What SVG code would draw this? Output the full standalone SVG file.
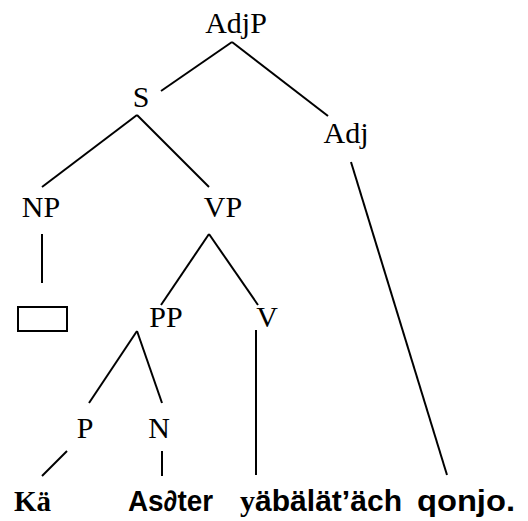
<svg xmlns="http://www.w3.org/2000/svg" width="528" height="521" viewBox="0 0 528 521">
<style>
.lbl{font-family:"Liberation Serif","Times New Roman",serif;font-size:30px;fill:#000;text-anchor:middle}
.word{font-family:"Liberation Sans",Arial,sans-serif;font-size:29px;font-weight:bold;fill:#000}
.serifb{font-family:"Liberation Serif","Times New Roman",serif;font-weight:bold}
.edge{stroke:#000;stroke-width:2;fill:none}
</style>
<rect width="528" height="521" fill="#fff"/>
<g id="connectors">
<line class="edge" x1="232" y1="42" x2="161" y2="91"/>
<line class="edge" x1="232" y1="42" x2="328" y2="116"/>
<line class="edge" x1="137" y1="115" x2="42" y2="187"/>
<line class="edge" x1="137" y1="115" x2="209" y2="187"/>
<line class="edge" x1="351" y1="162" x2="447" y2="475"/>
<line class="edge" x1="42" y1="234" x2="42" y2="283"/>
<line class="edge" x1="209" y1="234" x2="161" y2="305"/>
<line class="edge" x1="209" y1="234" x2="258" y2="305"/>
<line class="edge" x1="137" y1="331" x2="89" y2="403"/>
<line class="edge" x1="137" y1="331" x2="162" y2="403"/>
<line class="edge" x1="256" y1="330" x2="256" y2="475"/>
<line class="edge" x1="67" y1="451" x2="42" y2="476"/>
<line class="edge" x1="162" y1="451" x2="162" y2="476"/>
</g>
<g id="AdjP"><text class="lbl" x="236" y="33">AdjP</text></g>
<g id="S"><text class="lbl" x="141" y="107">S</text></g>
<g id="Adj"><text class="lbl" x="346" y="143">Adj</text></g>
<g id="NP"><text class="lbl" x="41" y="217">NP</text></g>
<g id="VP"><text class="lbl" x="223" y="217">VP</text></g>
<g id="empty"><rect x="18" y="307" width="49" height="24" fill="#fff" stroke="#000" stroke-width="2"/></g>
<g id="PP"><text class="lbl" x="166" y="327">PP</text></g>
<g id="V"><text class="lbl" x="267" y="327">V</text></g>
<g id="P"><text class="lbl" x="85" y="438">P</text></g>
<g id="N"><text class="lbl" x="159" y="438">N</text></g>
<g id="Ka"><text class="word serifb" x="14" y="511" font-size="28">Kä</text></g>
<g id="Aster"><text class="word" x="128" y="511" textLength="85" lengthAdjust="spacingAndGlyphs">As∂ter</text></g>
<g id="yabalatach"><text class="word" x="240" y="511" textLength="162" lengthAdjust="spacingAndGlyphs"><tspan class="serifb">y</tspan>äbälät’äch</text></g>
<g id="qonjo"><text class="word" x="417" y="511" textLength="98" lengthAdjust="spacingAndGlyphs">qonjo.</text></g>
</svg>
